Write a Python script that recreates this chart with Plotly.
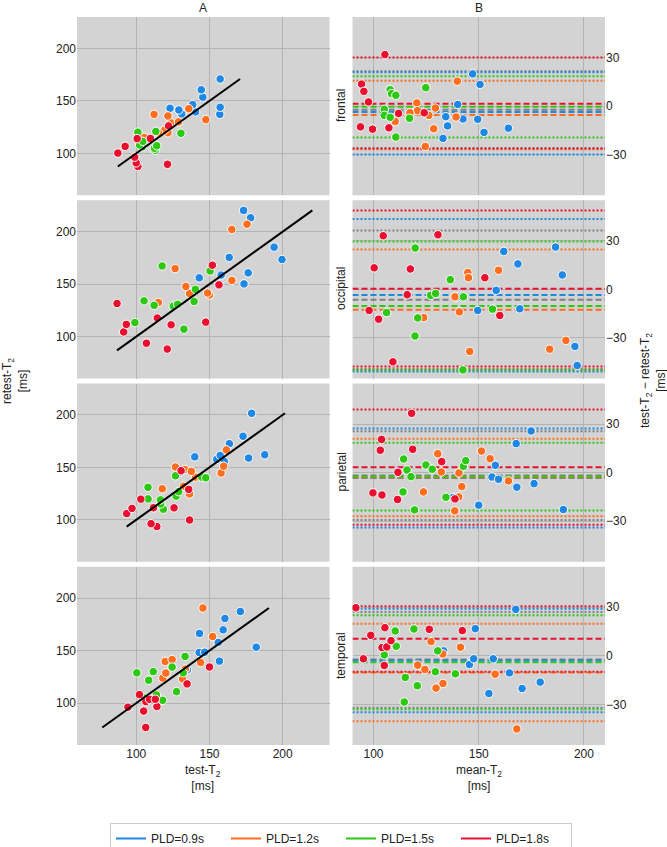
import plotly.graph_objects as go
from plotly.subplots import make_subplots

REGIONS = ["frontal", "occipital", "parietal", "temporal"]
GROUPS = ["PLD=0.9s", "PLD=1.2s", "PLD=1.5s", "PLD=1.8s"]
COLORS = ["#1f88e5", "#ff6d1f", "#2dc814", "#e8102e"]
OVERALL_COLOR = "#808080"

# Bland-Altman coordinates (mean-T2, test-T2 - retest-T2)
# one list per group, in GROUPS order
frontal_mean = [
    [147.1, 150.6, 140.0, 134.3, 135.2, 142.5, 149.5, 133.0, 152.5, 164.1],
    [139.8, 120.6, 120.9, 117.3, 126.3, 110.3, 128.6, 124.6, 139.2, 129.4],
    [107.9, 108.6, 110.6, 124.8, 105.1, 105.1, 107.9, 117.1, 110.6],
    [105.4, 94.3, 95.4, 97.6, 93.8, 99.5, 107.3, 111.9, 124.1],
]
frontal_diff = [
    [19.9, 13.4, 1.0, -6.5, -12.2, -7.9, -8.1, -19.9, -16.2, -13.6],
    [15.4, 2.0, -2.8, -4.1, -5.7, -9.5, -14.0, -24.9, -6.7, -1.2],
    [10.1, 7.7, 6.7, 11.4, -2.0, -5.7, -6.9, -7.5, -19.1],
    [31.8, 13.6, 9.1, 2.6, -12.8, -14.2, -13.4, -4.5, -4.1],
]
occipital_mean = [
    [139.8, 149.5, 158.3, 161.9, 168.6, 169.5, 186.5, 189.7, 195.7, 196.8],
    [123.8, 138.7, 140.8, 144.8, 145.1, 145.7, 159.4, 183.7, 191.4],
    [119.8, 106.2, 121.0, 119.7, 127.1, 129.5, 136.5, 142.7, 142.5, 156.5],
    [104.6, 100.3, 97.9, 102.4, 109.2, 117.5, 116.0, 130.6, 152.9, 160.0],
]
occipital_diff = [
    [-4.6, -13.0, -0.6, 23.4, 15.7, -12.0, 26.1, 8.9, -35.2, -47.0],
    [-17.4, -4.6, -13.9, 10.4, 7.2, -38.3, 11.8, -36.9, -31.5],
    [25.5, -14.3, -17.6, -28.8, -3.7, -2.5, 6.0, -4.6, -49.7, -12.2],
    [33.1, 13.3, -13.0, -18.4, -44.7, 12.6, -3.3, 33.7, 7.2, -16.1],
]
parietal_mean = [
    [137.8, 150.0, 156.3, 159.4, 157.9, 168.1, 174.9, 176.3, 190.2, 167.8],
    [130.5, 132.2, 123.7, 138.6, 140.5, 140.6, 141.9, 151.3, 155.4, 164.1],
    [114.3, 115.9, 117.8, 114.0, 119.5, 124.9, 127.9, 134.4, 142.7, 143.8],
    [118.1, 103.8, 103.2, 118.6, 99.7, 104.0, 111.4, 111.6, 132.4, 138.7],
]
parietal_diff = [
    [-15.4, -20.1, -2.7, -4.1, 4.5, -9.0, 25.7, -6.8, -22.8, 17.9],
    [11.7, 0.4, -11.9, -23.6, -15.0, -0.2, -8.6, 13.3, 8.6, -5.1],
    [8.4, 1.6, -2.5, -11.9, -23.0, 4.7, 2.1, -15.2, 3.9, 7.4],
    [36.6, 20.5, 13.8, 14.4, -12.5, -13.8, -16.6, 0.2, 6.8, -16.2],
]
temporal_mean = [
    [133.3, 145.6, 147.6, 148.4, 154.8, 156.9, 164.6, 167.6, 170.6, 179.2],
    [121.0, 124.4, 127.3, 129.7, 133.0, 132.9, 141.3, 157.8, 168.1],
    [105.1, 110.3, 110.8, 115.1, 114.6, 119.2, 120.8, 130.5, 129.4, 138.9],
    [91.6, 95.2, 98.7, 105.4, 104.0, 106.3, 108.3, 105.1, 126.5, 142.2],
]
temporal_diff = [
    [3.1, -5.3, -1.8, 16.8, -23.2, -1.8, -10.5, 28.7, -20.1, -16.2],
    [-5.7, -8.4, 8.8, -19.9, -17.0, 1.2, 5.3, -11.3, -45.1],
    [0.6, 15.4, 5.9, -13.3, -28.5, 16.6, -18.4, 3.1, -9.8, -11.1],
    [29.7, -1.8, 12.7, 17.4, 5.1, 5.5, 9.4, -5.9, 16.4, 15.6],
]

# bias (dashed) and limits of agreement (dotted); order: GROUPS..., overall
frontal_bias = [-3.7, -5.5, -0.4, 1.4, -2.2]
frontal_upper = [20.9, 15.6, 18.5, 30.0, 21.5]
frontal_lower = [-29.8, -26.6, -19.3, -26.2, -26.0]
occipital_bias = [-3.5, -12.6, -10.3, 0.4, -6.4]
occipital_upper = [43.5, 24.6, 29.6, 48.6, 36.4]
occipital_lower = [-50.7, -49.8, -49.7, -47.6, -49.2]
parietal_bias = [-3.3, -3.0, -2.4, 3.3, -1.8]
parietal_upper = [27.3, 20.9, 18.5, 39.0, 25.5]
parietal_lower = [-33.9, -26.9, -23.4, -32.2, -29.2]
temporal_bias = [-2.8, -10.2, -4.0, 10.5, -2.3]
temporal_upper = [29.1, 19.9, 25.0, 30.7, 27.0]
temporal_lower = [-34.8, -40.4, -33.0, -9.8, -32.0]

MEANS = [frontal_mean, occipital_mean, parietal_mean, temporal_mean]
DIFFS = [frontal_diff, occipital_diff, parietal_diff, temporal_diff]
BIAS = [frontal_bias, occipital_bias, parietal_bias, temporal_bias]
UPPER = [frontal_upper, occipital_upper, parietal_upper, temporal_upper]
LOWER = [frontal_lower, occipital_lower, parietal_lower, temporal_lower]

LEFT_X_RANGE = [59.5, 232]
LEFT_Y_RANGE = [60, 230]
RIGHT_X_RANGE = [90, 210]
RIGHT_Y_RANGE = [-55, 55]
TICKS_T2 = [100, 150, 200]
TICKS_DIFF = [-30, 0, 30]

W, H = 667, 847
ML, MR, MT, MB = 77, 62, 17, 102
PW, PH = W - ML - MR, H - MT - MB

FONT = "Liberation Sans, Arial, sans-serif"
TXT = "#222222"

fig = make_subplots(rows=4, cols=2, horizontal_spacing=23 / PW,
                    vertical_spacing=5 / PH)

marker_common = dict(size=8.5, line=dict(color="white", width=1))

for i, region in enumerate(REGIONS):
    row = i + 1
    all_vals = []
    # left: test vs retest
    for g in range(4):
        m = MEANS[i][g]
        d = DIFFS[i][g]
        test = [a + b / 2 for a, b in zip(m, d)]
        retest = [a - b / 2 for a, b in zip(m, d)]
        all_vals += test + retest
        fig.add_trace(go.Scatter(x=test, y=retest, mode="markers",
                                 marker=dict(color=COLORS[g], **marker_common),
                                 showlegend=False, hoverinfo="skip"),
                      row=row, col=1)
    lo, hi = min(all_vals), max(all_vals)
    fig.add_trace(go.Scatter(x=[lo, hi], y=[lo, hi], mode="lines",
                             line=dict(color="black", width=2),
                             showlegend=False, hoverinfo="skip"),
                  row=row, col=1)

    # right: Bland-Altman lines
    line_colors = [OVERALL_COLOR] + COLORS
    order = [4, 0, 1, 2, 3]
    for k, idx in enumerate(order):
        c = line_colors[k]
        for val, dash in ((UPPER[i][idx], "2px,2px"), (LOWER[i][idx], "2px,2px"),
                          (BIAS[i][idx], "6px,3px")):
            fig.add_trace(go.Scatter(x=RIGHT_X_RANGE, y=[val, val], mode="lines",
                                     line=dict(color=c, width=2, dash=dash),
                                     showlegend=False, hoverinfo="skip"),
                          row=row, col=2)
    for g in range(4):
        fig.add_trace(go.Scatter(x=MEANS[i][g], y=DIFFS[i][g], mode="markers",
                                 marker=dict(color=COLORS[g], **marker_common),
                                 showlegend=False, hoverinfo="skip"),
                      row=row, col=2)

# legend entries
for g in range(4):
    fig.add_trace(go.Scatter(x=[None], y=[None], mode="lines",
                             line=dict(color=COLORS[g], width=2),
                             name=GROUPS[g], showlegend=True),
                  row=1, col=1)

axis_common = dict(showgrid=True, gridcolor="#b3b3b3", gridwidth=1,
                   zeroline=False, showline=False, ticks="",
                   tickfont=dict(family=FONT, size=12, color=TXT))

for row in range(1, 5):
    fig.update_xaxes(range=LEFT_X_RANGE, tickvals=TICKS_T2,
                     showticklabels=(row == 4), row=row, col=1, **axis_common)
    fig.update_yaxes(range=LEFT_Y_RANGE, tickvals=TICKS_T2,
                     row=row, col=1, **axis_common)
    fig.update_xaxes(range=RIGHT_X_RANGE, tickvals=TICKS_T2,
                     showticklabels=(row == 4), row=row, col=2, **axis_common)
    fig.update_yaxes(range=RIGHT_Y_RANGE, tickvals=TICKS_DIFF, side="right",
                     row=row, col=2, **axis_common)


def px_x(p):
    return (p - ML) / PW


def px_y(p):
    return (H - MB - p) / PH


afont = dict(family=FONT, size=12, color=TXT)


def note(text, x, y, angle=0):
    return dict(text=text, x=px_x(x), y=px_y(y), xref="paper", yref="paper",
                xanchor="center", yanchor="middle", showarrow=False,
                textangle=angle, font=afont)


ann = [note("A", 203, 8), note("B", 479, 8)]
row_centers = [106, 289, 472.5, 656]
for i, region in enumerate(REGIONS):
    ann.append(note(region, 341, row_centers[i], -90))
ann.append(note("retest-T<sub>2</sub><br>[ms]", 15, 381, -90))
ann.append(note("test-T<sub>2</sub> \u2212 retest-T<sub>2</sub><br>[ms]", 653, 381, -90))
ann.append(note("test-T<sub>2</sub><br>[ms]", 203, 778))
ann.append(note("mean-T<sub>2</sub><br>[ms]", 479, 778))

fig.update_layout(
    width=W, height=H,
    margin=dict(l=ML, r=MR, t=MT, b=MB, autoexpand=False),
    paper_bgcolor="white", plot_bgcolor="#d3d3d3",
    font=dict(family=FONT, size=12, color=TXT),
    annotations=ann,
    showlegend=True,
    legend=dict(orientation="h", x=px_x(341), y=px_y(823),
                xanchor="center", yanchor="top",
                bordercolor="#cccccc", borderwidth=1,
                font=dict(family=FONT, size=12, color=TXT),
                entrywidth=70, entrywidthmode="pixels"),
)

fig.write_html("out.html",
               config={"displayModeBar": False},
               post_script="document.body.style.margin='0px';"
                           "document.body.style.overflow='hidden';")
